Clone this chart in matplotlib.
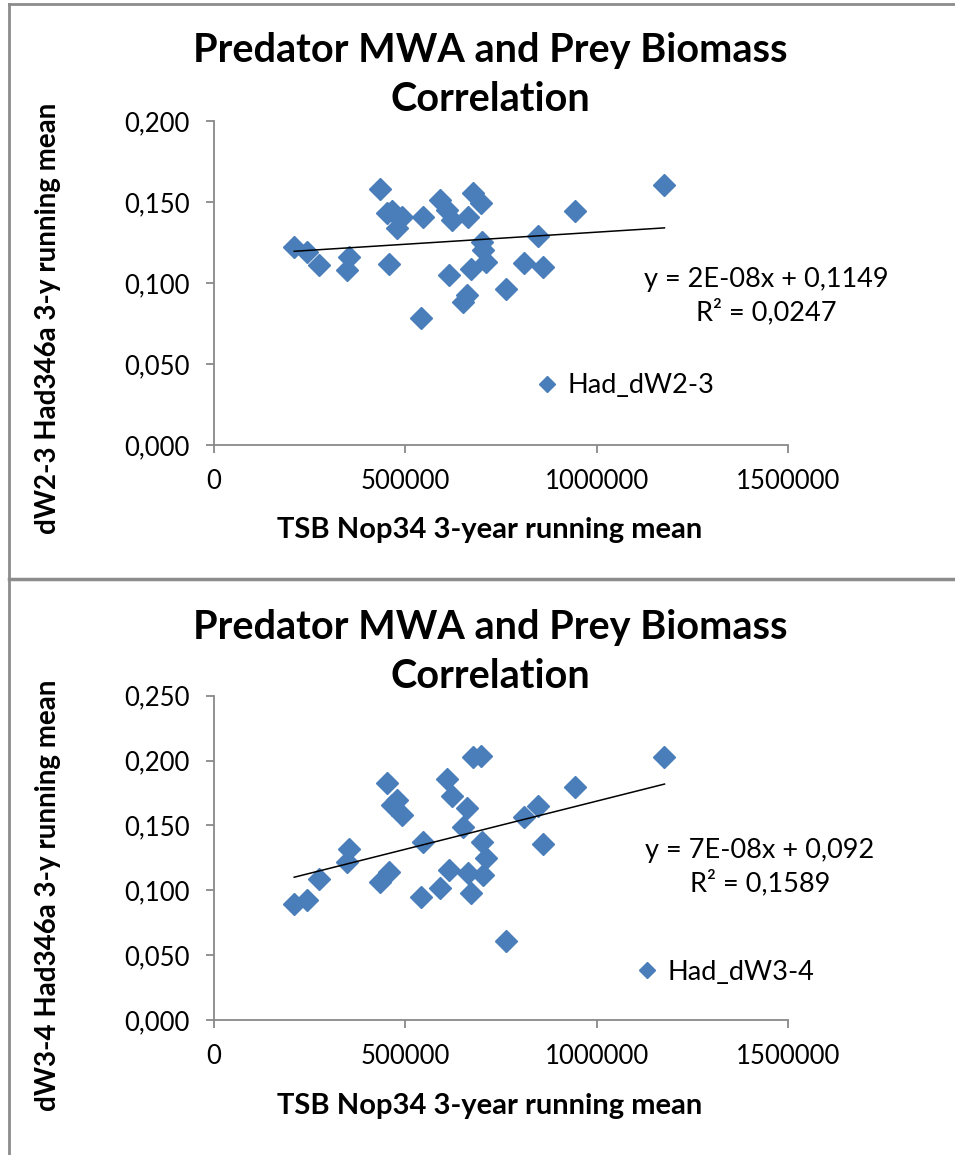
import numpy as np
import matplotlib
matplotlib.use("Agg")
import matplotlib.pyplot as plt
from matplotlib.lines import Line2D

plt.rcParams['font.family'] = ['Lato', 'DejaVu Sans']

# ---- data ----
tsb = [210700, 243500, 274300, 348700, 352900, 435900, 453400, 457600,
       466500, 479600, 492700, 547000, 543000, 590300, 608600, 614700,
       623600, 651800, 662800, 664900, 671500, 678000, 697600, 702100,
       704200, 710700, 763100, 811000, 847600, 859200, 944500, 1177500]

dw23 = [0.1224, 0.1193, 0.1111, 0.1080, 0.1162, 0.1580, 0.1430, 0.1115,
        0.1444, 0.1338, 0.1409, 0.1409, 0.0782, 0.1512, 0.1451, 0.1049,
        0.1389, 0.0885, 0.0926, 0.1409, 0.1085, 0.1554, 0.1492, 0.1255,
        0.1204, 0.1128, 0.0961, 0.1122, 0.1292, 0.1101, 0.1444, 0.1605]

dw34 = [0.0895, 0.0926, 0.1086, 0.1221, 0.1317, 0.1067, 0.1826, 0.1144,
        0.1659, 0.1698, 0.1582, 0.1376, 0.0951, 0.1016, 0.1860, 0.1157,
        0.1723, 0.1487, 0.1633, 0.1132, 0.0978, 0.2027, 0.2032, 0.1376,
        0.1119, 0.1248, 0.0612, 0.1564, 0.1646, 0.1358, 0.1800, 0.2024]

series_names = ["Had_dW2-3", "Had_dW3-4"]
titles = ["Predator MWA and Prey Biomass\nCorrelation",
          "Predator MWA and Prey Biomass\nCorrelation"]
ylabels = ["dW2-3 Had346a 3-y running mean", "dW3-4 Had346a 3-y running mean"]
xlabel = "TSB Nop34 3-year running mean"
equations = ["y = 2E-08x + 0,1149\nR\u00b2 = 0,0247",
             "y = 7E-08x + 0,092\nR\u00b2 = 0,1589"]
xticks = [0, 500000, 1000000, 1500000]
yticks_top = [0.0, 0.05, 0.10, 0.15, 0.20]
yticks_bot = [0.0, 0.05, 0.10, 0.15, 0.20, 0.25]

W, H = 955, 1155
fig = plt.figure(figsize=(W / 100, H / 100), dpi=100)

blue = '#4A7EBB'
grey = '#898989'

def fx(px):
    return px / W

def fy(py):
    return 1 - py / H

panels = [
    dict(y=dw23, ax_top=121, ax_bot=445, yt=yticks_top, ymax=0.2,
         title_y=75, ylab_y=318, xlab_y=530, leg=(535, 386), eq=(766, 296)),
    dict(y=dw34, ax_top=695.7, ax_bot=1020, yt=yticks_bot, ymax=0.25,
         title_y=652, ylab_y=895, xlab_y=1106, leg=(635, 972), eq=(760, 867)),
]

x0, x1 = 213.5, 788
for i, p in enumerate(panels):
    ax = fig.add_axes([fx(x0), fy(p['ax_bot']), (x1 - x0) / W,
                       (p['ax_bot'] - p['ax_top']) / H])
    ax.plot(tsb, p['y'], linestyle='none', marker='D', ms=11,
            color=blue, markeredgecolor=blue, label=series_names[i])
    k, b = np.polyfit(tsb, p['y'], 1)
    xs = np.array([min(tsb), max(tsb)])
    ax.plot(xs, k * xs + b, color='black', lw=1.1)
    ax.set_xlim(0, 1500000)
    ax.set_ylim(0, p['ymax'])
    ax.set_xticks(xticks)
    ax.set_xticklabels([str(v) for v in xticks])
    ax.set_yticks(p['yt'])
    ax.set_yticklabels([f"{v:.3f}".replace('.', ',') for v in p['yt']])
    for s in ['top', 'right']:
        ax.spines[s].set_visible(False)
    for s in ['left', 'bottom']:
        ax.spines[s].set_color(grey)
        ax.spines[s].set_linewidth(1.3)
    ax.tick_params(axis='both', direction='out', length=6, width=1.3,
                   color=grey, labelsize=18.5, pad=11)
    ax.patch.set_alpha(0)
    for lab in ax.get_xticklabels() + ax.get_yticklabels():
        lab.set_clip_on(False)

    lx = (p['leg'][0] - x0) / (x1 - x0)
    ly = (p['ax_bot'] - p['leg'][1]) / (p['ax_bot'] - p['ax_top'])
    ax.legend(loc='center left', bbox_to_anchor=(lx, ly), frameon=False,
              borderaxespad=0, borderpad=0, handlelength=0.9,
              handletextpad=0.3, markerscale=0.72, fontsize=19.5)

    ex = (p['eq'][0] - x0) / (x1 - x0)
    ey = (p['ax_bot'] - p['eq'][1]) / (p['ax_bot'] - p['ax_top'])
    ax.text(ex, ey, equations[i], transform=ax.transAxes, ha='center',
            va='center', fontsize=19.5, linespacing=1.32, clip_on=False)

    fig.text(fx(490), fy(p['title_y']), titles[i], ha='center', va='center',
             fontsize=28.5, fontweight='bold', linespacing=1.38)
    fig.text(fx(48), fy(p['ylab_y']), ylabels[i], rotation=90, ha='center',
             va='center', fontsize=20, fontweight='bold')
    fig.text(fx(490), fy(p['xlab_y']), xlabel, ha='center', va='center',
             fontsize=21, fontweight='bold')

# chart frames
border = '#8c8c8c'
fig.add_artist(Line2D([fx(9), fx(9)], [0, fy(4)], color=border, lw=2,
                      transform=fig.transFigure))
fig.add_artist(Line2D([fx(9), 1], [fy(4), fy(4)], color=border, lw=2,
                      transform=fig.transFigure))
fig.add_artist(Line2D([fx(9), 1], [fy(579), fy(579)], color=border, lw=2.5,
                      transform=fig.transFigure))

fig.savefig("out.png", dpi=100)
